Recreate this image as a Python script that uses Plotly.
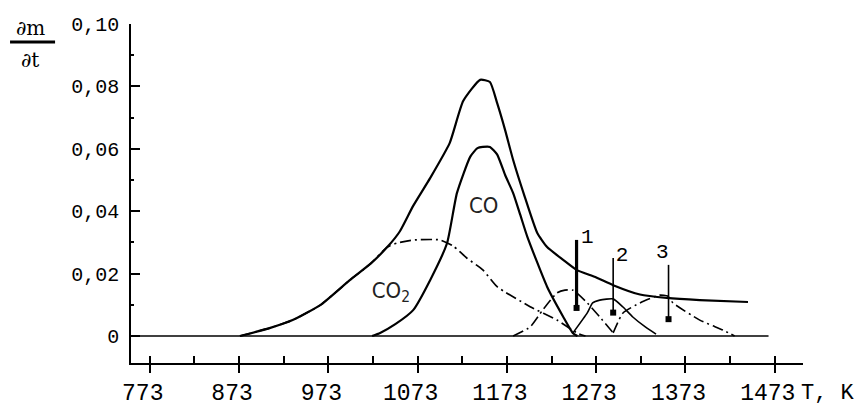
import plotly.graph_objects as go

# ---- data (T in K, dm/dt) ----
total_T = [874, 908, 933, 964, 997, 1020, 1039, 1053, 1068, 1087, 1109, 1124, 1143, 1154, 1162, 1171, 1180, 1193, 1207, 1218, 1236, 1251, 1272, 1292, 1322, 1352, 1389, 1443]
total_v = [0.0, 0.0026, 0.0051, 0.0099, 0.0179, 0.0231, 0.0285, 0.0335, 0.0417, 0.0506, 0.0619, 0.0753, 0.0821, 0.0814, 0.0747, 0.066, 0.0564, 0.0446, 0.033, 0.0285, 0.0244, 0.0212, 0.0189, 0.0163, 0.0133, 0.0122, 0.0115, 0.0109]

co_T = [1022, 1031, 1048, 1068, 1087, 1106, 1117, 1132, 1140, 1146, 1154, 1162, 1171, 1180, 1188, 1196, 1218, 1236, 1247, 1252]
co_v = [0.0, 0.001, 0.0038, 0.0083, 0.0179, 0.0298, 0.0458, 0.0575, 0.0602, 0.0606, 0.0606, 0.0582, 0.0516, 0.0458, 0.0388, 0.0317, 0.0158, 0.0062, 0.0009, 0.0]

co2_T = [874, 908, 933, 964, 997, 1020, 1039, 1050, 1070, 1098, 1113, 1128, 1146, 1162, 1199, 1229, 1252, 1261]
co2_v = [0.0, 0.0026, 0.0051, 0.0099, 0.0179, 0.0231, 0.0285, 0.0298, 0.0308, 0.0308, 0.0288, 0.025, 0.0212, 0.0158, 0.0094, 0.0051, 0.0009, 0.0]

p1_T = [1180, 1199, 1213, 1229, 1238, 1247, 1263, 1277, 1292]
p1_v = [0.0, 0.0029, 0.0083, 0.0138, 0.0147, 0.0147, 0.0106, 0.0061, 0.001]

p2_T = [1247, 1263, 1269, 1277, 1292, 1303, 1314, 1328, 1340]
p2_v = [0.001, 0.0074, 0.0106, 0.0115, 0.0119, 0.0093, 0.0061, 0.0029, 0.0006]

p3_T = [1292, 1303, 1322, 1344, 1353, 1359, 1389, 1415, 1428]
p3_v = [0.001, 0.0074, 0.0106, 0.0131, 0.0128, 0.0106, 0.0051, 0.0019, 0.0]

baseline_T = [752, 1466]
baseline_v = [0.0, 0.0]

marker_names = ["1", "2", "3"]
marker_T = [1251, 1292, 1354]
marker_top = [0.0308, 0.025, 0.0228]
marker_bottom = [0.009, 0.0075, 0.0054]
marker_label_T = [1263, 1302, 1347]
marker_label_v = [0.0316, 0.0258, 0.0268]

x_ticks = [773, 873, 973, 1073, 1173, 1273, 1373, 1473]
y_ticks = [0, 0.02, 0.04, 0.06, 0.08, 0.10]
y_tick_text = ["0", "0,02", "0,04", "0,06", "0,08", "0,10"]

species_text = ["CO", "CO<sub>2</sub>"]
species_T = [1147, 1043]
species_v = [0.0413, 0.0141]

# ---- figure ----
fig = go.Figure()
DD = "11px,4px,2px,4px"
fig.add_trace(go.Scatter(x=baseline_T, y=baseline_v, mode="lines", line=dict(color="black", width=1.6)))
fig.add_trace(go.Scatter(x=co2_T, y=co2_v, mode="lines", line=dict(color="black", width=1.7, dash=DD, shape="spline", smoothing=0.5)))
fig.add_trace(go.Scatter(x=p1_T, y=p1_v, mode="lines", line=dict(color="black", width=1.6, dash=DD, shape="spline", smoothing=0.5)))
fig.add_trace(go.Scatter(x=p3_T, y=p3_v, mode="lines", line=dict(color="black", width=1.6, dash=DD, shape="spline", smoothing=0.5)))
fig.add_trace(go.Scatter(x=p2_T, y=p2_v, mode="lines", line=dict(color="black", width=1.6, shape="spline", smoothing=0.5)))
fig.add_trace(go.Scatter(x=co_T, y=co_v, mode="lines", line=dict(color="black", width=2.2, shape="spline", smoothing=0.5)))
fig.add_trace(go.Scatter(x=total_T, y=total_v, mode="lines", line=dict(color="black", width=2.2, shape="spline", smoothing=0.5)))

widths = [3.2, 1.6, 1.6]
for i in range(len(marker_names)):
    fig.add_trace(go.Scatter(x=[marker_T[i], marker_T[i]], y=[marker_bottom[i], marker_top[i]], mode="lines",
                             line=dict(color="black", width=widths[i])))
fig.add_trace(go.Scatter(x=marker_T, y=marker_bottom, mode="markers",
                         marker=dict(symbol="square", size=6, color="black")))
fig.add_trace(go.Scatter(x=marker_label_T, y=marker_label_v, mode="text", text=marker_names,
                         textfont=dict(family="Liberation Mono", size=21, color="black")))
fig.add_trace(go.Scatter(x=species_T, y=species_v, mode="text", text=species_text,
                         textfont=dict(family="Liberation Sans Narrow, DejaVu Sans Condensed, Liberation Sans", size=22, color="#222")))

# page body has an 8px margin: figure is shrunk by 8px and margins shifted accordingly
fig.update_layout(
    width=854, height=400,
    margin=dict(l=123, r=59, t=16, b=45, autoexpand=False),
    paper_bgcolor="white", plot_bgcolor="white",
    showlegend=False,
    font=dict(family="Liberation Mono", color="black"),
)
fig.update_xaxes(
    range=[752, 1504.6], tickvals=x_ticks, ticktext=[str(v) for v in x_ticks],
    automargin=False,
    showgrid=False, zeroline=False, showline=True, linecolor="black", linewidth=1.6,
    ticks="outside", ticklen=8, tickwidth=1.5, tickcolor="black",
    minor=dict(ticks="inside", ticklen=7, tickwidth=1.5, tickcolor="black", dtick=50, tick0=823),
    tickfont=dict(family="Liberation Mono", size=23, color="black"),
    ticklabelshift=-7,
)
fig.update_yaxes(
    range=[-0.00865, 0.10], tickvals=y_ticks, ticktext=y_tick_text,
    automargin=False,
    showgrid=False, zeroline=False, showline=True, linecolor="black", linewidth=1.6,
    ticks="inside", ticklen=9, tickwidth=1.5, tickcolor="black",
    minor=dict(ticks="inside", ticklen=3, tickwidth=1.5, tickcolor="black", dtick=0.01, tick0=0),
    tickfont=dict(family="Liberation Mono", size=20, color="black"),
    ticklabelstandoff=6,
)

# y-axis title as a fraction dm/dt, x-axis title "T, K"
fig.add_annotation(text="∂m", x=-0.149, y=0.988, xref="paper", yref="paper", showarrow=False,
                   xanchor="center", yanchor="middle",
                   font=dict(family="DejaVu Serif", size=20, color="black"))
fig.add_annotation(text="∂t", x=-0.150, y=0.894, xref="paper", yref="paper", showarrow=False,
                   xanchor="center", yanchor="middle",
                   font=dict(family="DejaVu Serif", size=20, color="black"))
fig.add_shape(type="line", xref="paper", yref="paper", x0=-0.180, x1=-0.113, y0=0.947, y1=0.947,
              line=dict(color="black", width=3))
fig.add_annotation(text="T, K", x=1.037, y=-0.09, xref="paper", yref="paper", showarrow=False,
                   xanchor="center", yanchor="middle",
                   font=dict(family="Liberation Mono", size=22, color="black"))

fig.write_html("out.html")
